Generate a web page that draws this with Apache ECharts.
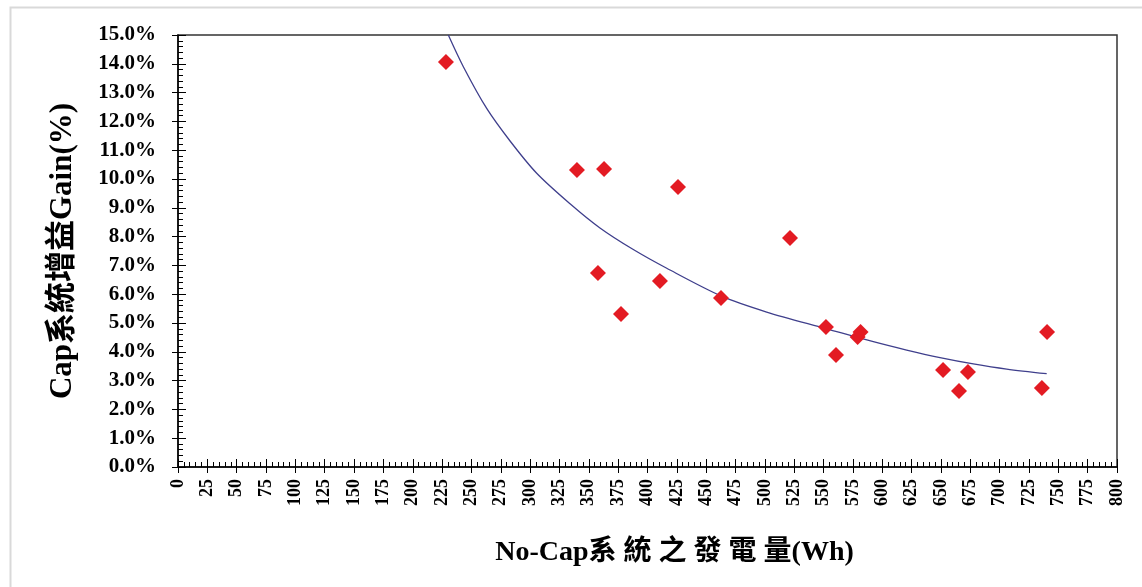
<!DOCTYPE html>
<html>
<head>
<meta charset="utf-8">
<script src="https://cdn.jsdelivr.net/npm/echarts@6/dist/echarts.min.js"></script>
<style>
html,body{margin:0;padding:0;background:#fff;}
#chart{width:1142px;height:587px;}
</style>
</head>
<body>
<div id="chart"></div>
<script>
// Scatter observations: No-Cap generation (Wh) vs Cap gain (%)
const genWh = [228.3, 339.9, 363.0, 426.0, 357.8, 410.6, 377.4, 462.6, 521.4, 552.0, 560.6, 579.0, 581.5, 651.8, 665.4, 673.0, 736.0, 740.4];
const gainPct = [14.06, 10.31, 10.35, 9.72, 6.74, 6.46, 5.31, 5.87, 7.95, 4.86, 3.89, 4.51, 4.69, 3.37, 2.64, 3.30, 2.74, 4.69];

// Trendline points
const trendX = [230.3, 243.1, 263.0, 282.9, 305.6, 334.0, 359.5, 387.9, 416.4, 463.2, 501.5, 552.7, 592.4, 620.8, 649.2, 677.6, 706.0, 740.1];
const trendY = [15.0, 13.90, 12.45, 11.32, 10.20, 9.14, 8.30, 7.55, 6.90, 5.93, 5.38, 4.80, 4.35, 4.06, 3.80, 3.58, 3.40, 3.24];

const yTitle = 'Cap系統增益Gain(%)';
const xTitle = 'No-Cap系 統 之 發 電 量(Wh)';

const scatterData = genWh.map((x, i) => [x, gainPct[i]]);
const trendData = trendX.map((x, i) => [x, trendY[i]]);

const serif = '"Liberation Serif", "Times New Roman", "Noto Sans CJK TC", serif';

const chart = echarts.init(document.getElementById('chart'));
const baseX = {
  type: 'value', min: 0, max: 800, interval: 25, position: 'bottom'
};
const baseY = {
  type: 'value', min: 0, max: 15, interval: 1, position: 'left'
};
chart.setOption({
  animation: false,
  backgroundColor: '#fff',
  graphic: [{
    type: 'rect', left: 8, top: 5, shape: {width: 1200, height: 700},
    style: {fill: 'none', stroke: '#d9d9d9', lineWidth: 2}, silent: true
  }],
  grid: {left: 178, top: 35, right: 25, bottom: 120, show: true, borderColor: '#333', borderWidth: 1.5, backgroundColor: 'transparent'},
  xAxis: [
    Object.assign({}, baseX, {
      name: xTitle,
      nameLocation: 'middle',
      nameGap: 72,
      nameTextStyle: {fontFamily: serif, fontSize: 28, fontWeight: 'bold', color: '#000', padding: [0, 0, 0, 54]},
      axisLine: {show: true, onZero: false, lineStyle: {color: '#000', width: 1.5}},
      axisTick: {show: true, inside: false, length: 6, lineStyle: {color: '#000'}},
      minorTick: {show: false},
      splitLine: {show: false},
      axisLabel: {rotate: 90, fontFamily: serif, fontSize: 18, fontWeight: 'bold', color: '#000', margin: 12}
    }),
    Object.assign({}, baseX, {
      axisLine: {show: false},
      axisTick: {show: true, inside: true, length: 8, lineStyle: {color: '#000'}},
      minorTick: {show: true, splitNumber: 5, length: 5, lineStyle: {color: '#000'}},
      splitLine: {show: false},
      axisLabel: {show: false}
    })
  ],
  yAxis: [
    Object.assign({}, baseY, {
      name: yTitle,
      nameLocation: 'middle',
      nameGap: 100,
      nameTextStyle: {fontFamily: serif, fontSize: 31, fontWeight: 'bold', color: '#000'},
      axisLine: {show: true, onZero: false, lineStyle: {color: '#000', width: 1.5}},
      axisTick: {show: true, inside: false, length: 6, lineStyle: {color: '#000'}},
      minorTick: {show: false},
      splitLine: {show: false},
      axisLabel: {fontFamily: serif, fontSize: 21, fontWeight: 'bold', color: '#000', margin: 22,
        formatter: v => v.toFixed(1) + '%'}
    }),
    Object.assign({}, baseY, {
      axisLine: {show: false},
      axisTick: {show: true, inside: true, length: 8, lineStyle: {color: '#000'}},
      minorTick: {show: true, splitNumber: 5, length: 5, lineStyle: {color: '#000'}},
      splitLine: {show: false},
      axisLabel: {show: false}
    })
  ],
  series: [
    {
      type: 'line', data: trendData, smooth: 0.3, showSymbol: false,
      lineStyle: {color: '#3f3f8c', width: 1.3}, z: 2, silent: true
    },
    {
      type: 'scatter', data: scatterData, symbol: 'diamond', symbolSize: 16,
      itemStyle: {color: '#e31b23', opacity: 1}, z: 3
    }
  ]
});
</script>
</body>
</html>
